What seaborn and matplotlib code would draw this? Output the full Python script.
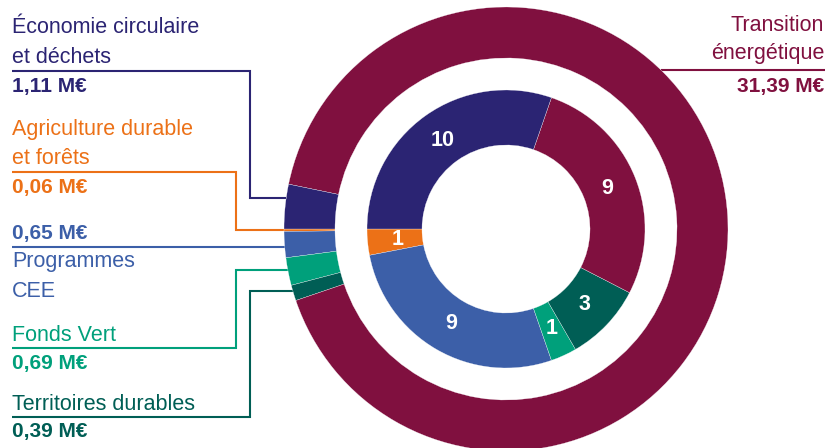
import numpy as np
import matplotlib.pyplot as plt
import seaborn as sns

# données
categories = ["Économie circulaire\net déchets", "Agriculture durable\net forêts",
              "Programmes\nCEE", "Fonds Vert", "Territoires durables",
              "Transition\nénergétique"]
montants = [1.11, 0.06, 0.65, 0.69, 0.39, 31.39]   # M€
nb_projets = [10, 1, 9, 1, 3, 9]
couleurs = ["#2B2473", "#EC7117", "#3C5FA8", "#00A07B", "#005E55", "#80103F"]

sns.set_theme(style="white")
plt.rcParams['font.family'] = ['Liberation Sans', 'DejaVu Sans']

W, H = 830, 448
fig = plt.figure(figsize=(W / 100, H / 100), dpi=100)
ax = fig.add_axes([0, 0, 1, 1])

cx, cy = 506, H - 229
R_ext, R_int = 222, 139
ordre = [1, 2, 3, 4, 5, 0]  # sens trigo en partant de 9 h
pal = [couleurs[i] for i in ordre]

ax.pie([montants[i] for i in ordre], colors=pal, startangle=180, counterclock=True,
       center=(cx, cy), radius=R_ext,
       wedgeprops=dict(width=51, edgecolor='white', linewidth=0.2))

total = sum(nb_projets)
ax.pie([nb_projets[i] for i in ordre], colors=pal, startangle=180, counterclock=True,
       center=(cx, cy), radius=R_int,
       wedgeprops=dict(width=55, edgecolor='white', linewidth=0.2),
       autopct=lambda p: f"{p * total / 100:.0f}", pctdistance=0.785,
       textprops=dict(color='white', fontsize=15.5, fontweight='bold'))


def bord_anneau(y_pix, cote):
    dy = (H - y_pix) - cy
    return cx + cote * np.sqrt(R_ext ** 2 - dy ** 2)


def fmt(m):
    return f"{m:.2f}".replace('.', ',') + " M€"


# mise en page des étiquettes (pixels depuis le haut)
# (lignes du nom, ligne de rappel, valeur, coude, y sur l'anneau)
mise_en_page = [
    ([32.7, 63.3], 70.7, 91.7, 250, 198),
    ([135, 164.3], 171.7, 192.7, 236, 230),
    ([266.7, 296.7], 246.7, 239.3, None, 246.7),
    ([340.7], 347.7, 369.3, 236, 270),
    ([410], 417.3, 437.3, 250, 291),
]

x0 = 12
for i, (bases, y_ligne, y_val, coude, y_ring) in enumerate(mise_en_page):
    c = couleurs[i]
    for txt, b in zip(categories[i].split("\n"), bases):
        ax.text(x0, H - b, txt, color=c, fontsize=15.5, va='baseline', ha='left')
    ax.text(x0, H - y_val, fmt(montants[i]), color=c, fontsize=15,
            fontweight='bold', va='baseline', ha='left')
    xe = bord_anneau(y_ring, -1)
    if coude is None:
        xs, ys = [x0, xe], [y_ligne, y_ring]
    else:
        xs, ys = [x0, coude, coude, xe], [y_ligne, y_ligne, y_ring, y_ring]
    ax.plot(xs, [H - y for y in ys], color=c, lw=1.5, zorder=0,
            solid_capstyle='butt', solid_joinstyle='miter')

# Transition énergétique, à droite
c = couleurs[5]
xr = 824
for txt, b in zip(categories[5].split("\n"), [30.7, 59.3]):
    ax.text(xr, H - b, txt, color=c, fontsize=15.5, va='baseline', ha='right')
ax.text(xr, H - 91.7, fmt(montants[5]), color=c, fontsize=15,
        fontweight='bold', va='baseline', ha='right')
ax.plot([bord_anneau(70, 1), 825], [H - 70, H - 70], color=c, lw=1.5, zorder=0,
        solid_capstyle='butt')

ax.set_xlim(0, W)
ax.set_ylim(0, H)
ax.set_aspect('equal')
ax.axis('off')

plt.savefig("out.png", dpi=100)
